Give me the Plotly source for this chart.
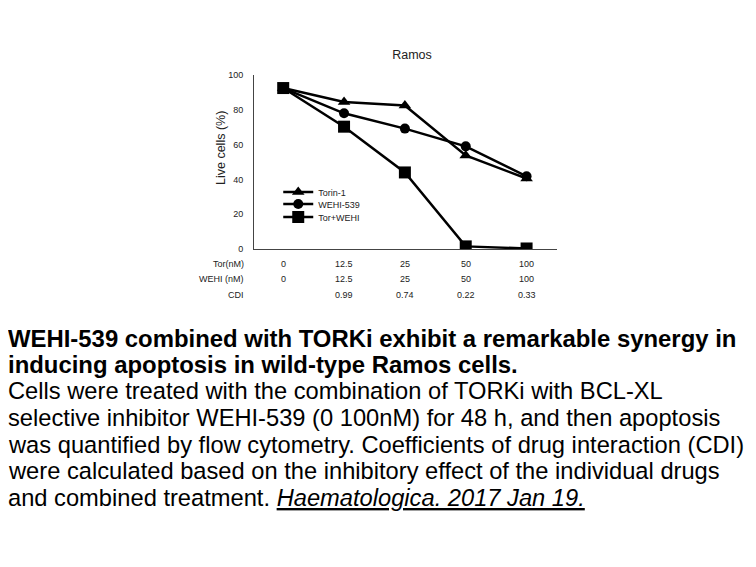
import plotly.graph_objects as go

conc_labels = ["0", "12.5", "25", "50", "100"]
tor_nm = ["0", "12.5", "25", "50", "100"]
wehi_nm = ["0", "12.5", "25", "50", "100"]
cdi = ["", "0.99", "0.74", "0.22", "0.33"]

torin1 = [92.5, 84.5, 82.5, 53.8, 40.5]
wehi539 = [92.5, 78, 69.2, 59, 41.8]
tor_wehi = [92.5, 70.3, 44, 1.5, 0.3]

series = [
    ("Torin-1", torin1, "triangle-up", 11),
    ("WEHI-539", wehi539, "circle", 10),
    ("Tor+WEHI", tor_wehi, "square", 12),
]

# page is offset by 8px body margin; coordinates below are screen pixels
OFF = 8
W, H = 748, 559
L, R, T, B = 254 - OFF, 557 - OFF, 75 - OFF, 249 - OFF


def py(ypx):
    return (B - (ypx - OFF)) / (B - T)


def px(xpx):
    return ((xpx - OFF) - L) / (R - L)


xs = list(range(len(conc_labels)))
legend_y = [192, 204, 217]
fig = go.Figure()
for k, (name, vals, sym, sz) in enumerate(series):
    lg = "legend" if k == 0 else f"legend{k + 1}"
    fig.add_trace(go.Scatter(
        x=xs, y=vals, name=name, mode="lines+markers",
        line=dict(color="black", width=2.5),
        marker=dict(symbol=sym, size=sz, color="black"),
        legend=lg,
    ))

legend_common = dict(xanchor="left", yanchor="middle", font=dict(size=9, color="#222"),
                     bgcolor="rgba(0,0,0,0)", itemwidth=30, itemsizing="trace")
fig.update_layout(
    width=W, height=H,
    margin=dict(l=L, r=W - R, t=T, b=H - B, pad=0),
    paper_bgcolor="white", plot_bgcolor="white",
    font=dict(family="Liberation Sans, Arial", color="black"),
    showlegend=True,
    legend=dict(x=0.08, y=py(legend_y[0]), **legend_common),
    legend2=dict(x=0.08, y=py(legend_y[1]), **legend_common),
    legend3=dict(x=0.08, y=py(legend_y[2]), **legend_common),
    title=dict(text="Ramos", x=(412 - OFF) / W, xanchor="center", y=1 - (55 - OFF) / H,
               yanchor="middle", font=dict(size=12.5, color="#222")),
)
fig.update_xaxes(range=[-0.48, 4.5], showgrid=False, zeroline=False,
                 showline=True, linecolor="#444", linewidth=1,
                 tickvals=xs, showticklabels=False, ticks="")
fig.update_yaxes(range=[0, 100], showgrid=False, zeroline=False,
                 showline=True, linecolor="#444", linewidth=1,
                 tickvals=[0, 20, 40, 60, 80, 100], ticks="",
                 ticklabelstandoff=8,
                 tickfont=dict(size=9, color="#222"))

fig.add_annotation(text="Live cells (%)", xref="paper", yref="paper",
                   x=px(221), y=py(148), xanchor="center", yanchor="middle",
                   textangle=-90, showarrow=False, font=dict(size=12.5, color="#222"))

rows = [("Tor(nM)", tor_nm, 264), ("WEHI (nM)", wehi_nm, 279), ("CDI", cdi, 295)]
for label, vals, ypx in rows:
    yp = py(ypx)
    fig.add_annotation(text=label, xref="paper", yref="paper",
                       x=px(246), y=yp, xanchor="right", yanchor="middle",
                       showarrow=False, font=dict(size=9, color="#222"))
    for i, v in enumerate(vals):
        if v:
            fig.add_annotation(text=v, xref="x", yref="paper", x=i, y=yp,
                               xanchor="center", yanchor="middle", showarrow=False,
                               font=dict(size=9, color="#222"))

caption = [
    ("<b>WEHI-539 combined with TORKi exhibit a remarkable synergy in</b>", 338, 23.9),
    ("<b>inducing apoptosis in wild-type Ramos cells.</b>", 364, 23.9),
    ("Cells were treated with the combination of TORKi with BCL-XL", 391, 23.7),
    ("selective inhibitor WEHI-539 (0 100nM) for 48 h, and then apoptosis", 418, 23.7),
    ("was quantified by flow cytometry. Coefficients of drug interaction (CDI)", 445, 23.7),
    ("were calculated based on the inhibitory effect of the individual drugs", 471, 23.7),
    ("and combined treatment. <i><u>Haematologica. 2017 Jan 19.</u></i>", 498, 23.7),
]
for txt, ypx, fs in caption:
    fig.add_annotation(text=txt, xref="paper", yref="paper",
                       x=px(6), y=py(ypx),
                       xanchor="left", yanchor="middle", showarrow=False,
                       font=dict(size=fs, color="black", family="Liberation Sans, Arial"))

fig.write_html("out.html")
